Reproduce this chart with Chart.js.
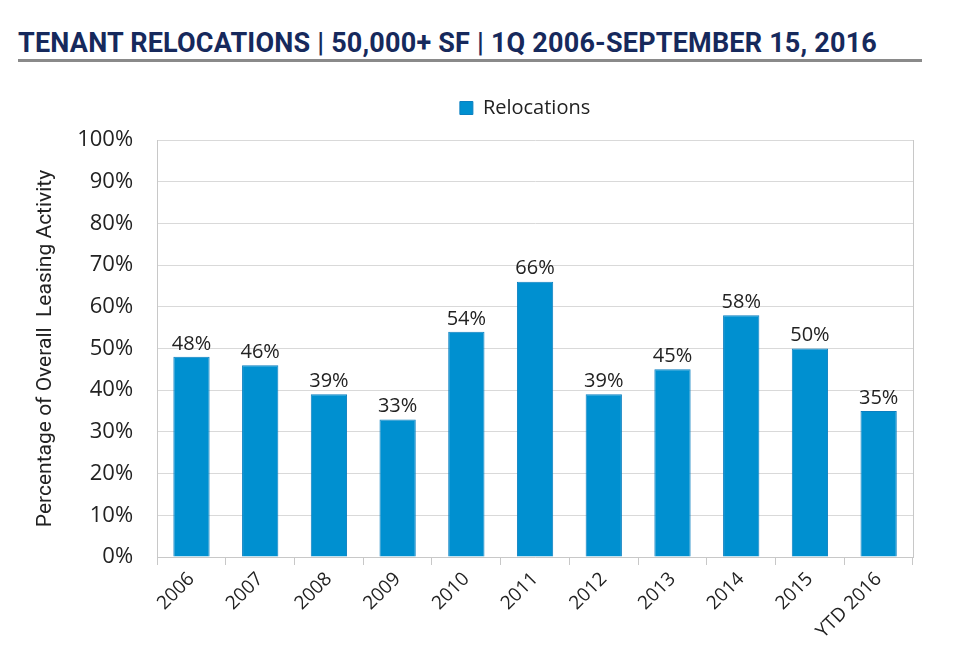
<!DOCTYPE html>
<html>
<head>
<meta charset="utf-8">
<script src="https://cdn.jsdelivr.net/npm/chart.js@4"></script>
<style>
  body { margin: 0; background: #fff; width: 960px; height: 653px; overflow: hidden; font-family: "Roboto", sans-serif; }
  h1 { margin: 0; position: absolute; left: 18px; top: 27px; width: 904px; font-size: 27px; font-weight: bold; color: #16295c; letter-spacing: 0.2px; padding-bottom: 0px; border-bottom: 3px solid #8a8a8a; }
  #wrap { position: absolute; left: 0; top: 80px; width: 960px; height: 573px; }
</style>
</head>
<body>
<h1>TENANT RELOCATIONS | 50,000+ SF | 1Q 2006-SEPTEMBER 15, 2016</h1>
<div id="wrap"><canvas id="relocChart"></canvas></div>
<script>
var years = ['2006', '2007', '2008', '2009', '2010', '2011', '2012', '2013', '2014', '2015', 'YTD 2016'];
var relocations = [48, 46, 39, 33, 54, 66, 39, 45, 58, 50, 35];

// draws the % labels above each bar
var barLabels = {
    id: 'barLabels',
    afterDatasetsDraw: function(chart) {
        var ctx = chart.ctx;
        var meta = chart.getDatasetMeta(0);
        ctx.save();
        ctx.font = '20px "Open Sans", sans-serif';
        ctx.fillStyle = '#222';
        ctx.textAlign = 'center';
        ctx.textBaseline = 'bottom';
        meta.data.forEach(function(bar, i) {
            ctx.fillText(relocations[i] + '%', bar.x, bar.y - 3);
        });
        ctx.restore();
    }
};

// legend: extra gap below, centred over the plot area
var legendGap = {
    id: 'legendGap',
    beforeInit: function(chart) {
        var fit = chart.legend.fit;
        chart.legend.fit = function() {
            fit.bind(chart.legend)();
            this.height += 12;
        };
    },
    afterLayout: function(chart) {
        chart.legend.left = chart.chartArea.left - 20;
        chart.legend.right = chart.chartArea.right;
    }
};

document.addEventListener("DOMContentLoaded", function() {
    var ctx = document.getElementById('relocChart').getContext('2d');
    new Chart(ctx, {
        type: 'bar',
        data: {
            labels: years,
            datasets: [{
                label: 'Relocations',
                data: relocations,
                backgroundColor: '#0090d0',
                borderColor: '#0a7fc0',
                borderWidth: 1,
                barPercentage: 0.8,
                categoryPercentage: 0.66
            }]
        },
        options: {
            responsive: true,
            maintainAspectRatio: false,
            animation: false,
            layout: { padding: { left: 33, right: 47, top: 8, bottom: 7 } },
            plugins: {
                legend: {
                    labels: {
                        boxWidth: 13, boxHeight: 13, color: '#222',
                        font: { family: 'Open Sans', size: 20 }
                    }
                },
                tooltip: { enabled: false }
            },
            scales: {
                y: {
                    min: 0, max: 100,
                    ticks: {
                        stepSize: 10, color: '#222', padding: 24,
                        font: { family: 'Open Sans', size: 22 },
                        callback: function(v) { return v + '%'; }
                    },
                    grid: { color: '#d9d9d9', drawTicks: false },
                    border: { color: '#c8c8c8' },
                    title: {
                        display: true, text: 'Percentage of Overall  Leasing Activity',
                        color: '#222', font: { family: 'Roboto', size: 21 },
                        padding: { top: 0, bottom: -5 }
                    }
                },
                x: {
                    ticks: {
                        minRotation: 45, maxRotation: 45, color: '#222',
                        font: { family: 'Open Sans', size: 19 }
                    },
                    grid: { offset: true, drawOnChartArea: false, tickLength: 8, color: '#c8c8c8' },
                    border: { color: '#c8c8c8' }
                }
            }
        },
        plugins: [barLabels, legendGap, {
            id: 'rightBorder',
            afterDraw: function(chart) {
                var a = chart.chartArea, c = chart.ctx;
                c.save();
                c.strokeStyle = '#c8c8c8';
                c.lineWidth = 1;
                c.beginPath();
                c.moveTo(a.right + 0.5, a.top);
                c.lineTo(a.right + 0.5, a.bottom);
                c.stroke();
                c.restore();
            }
        }]
    });
});
</script>
</body>
</html>
